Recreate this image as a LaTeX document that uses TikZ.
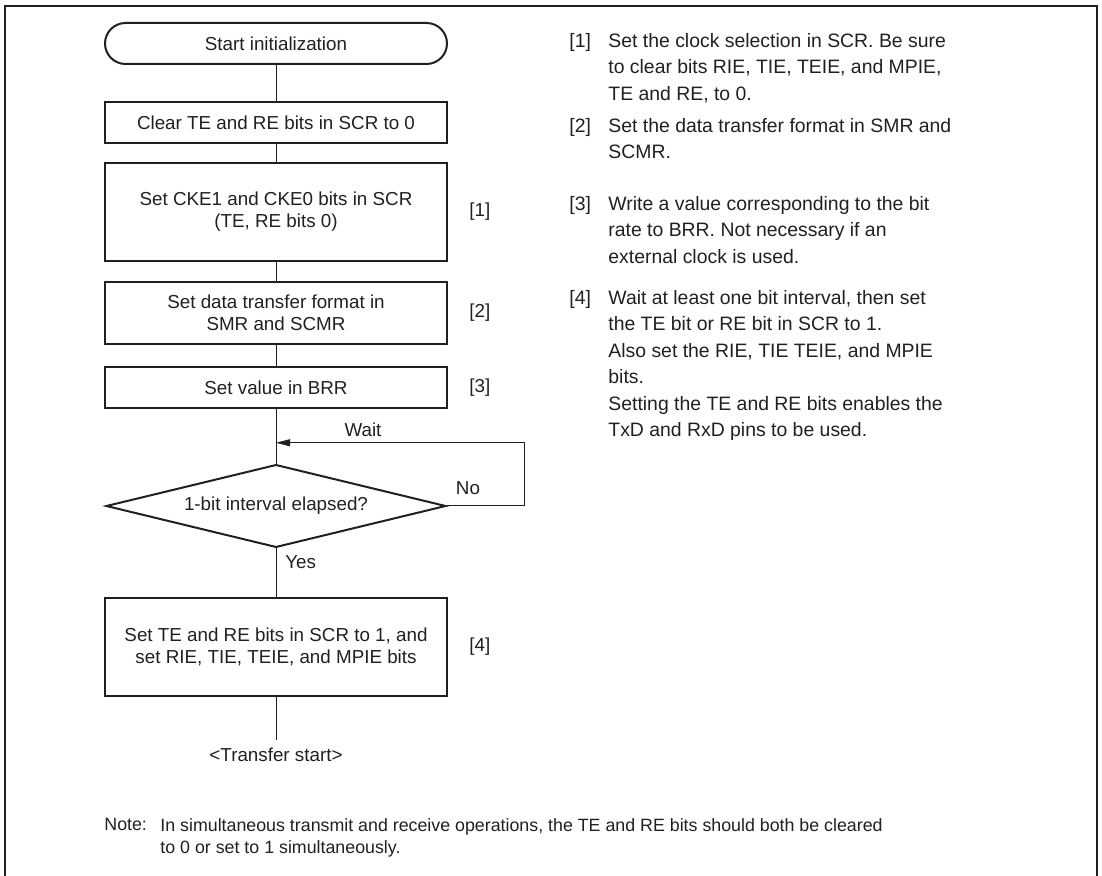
\documentclass[tikz,border=0pt]{standalone}
\usepackage{fontspec}
\setmainfont{Liberation Sans}
\usetikzlibrary{arrows.meta,shapes.geometric,positioning,calc}
\definecolor{ink}{RGB}{35,31,32}
\tikzset{
  stepbox/.style={rectangle,draw=ink,text=ink,line width=1pt,
                  minimum width=171pt,minimum height=#1,inner sep=0pt,
                  outer sep=0pt,align=center,font=\fontsize{9.4}{11}\selectfont},
  stepbox/.default=20.5pt,
  term/.style={stepbox,rounded corners=10.25pt},
  decide/.style={diamond,aspect=4.13,draw=ink,text=ink,line width=1pt,
                 minimum width=169.5pt,minimum height=41pt,inner sep=0pt,
                 outer sep=0pt,font=\fontsize{9.4}{11}\selectfont},
  flow/.style={draw=ink,line width=0.5pt},
  back/.style={flow,-{Triangle[length=7pt,width=3.5pt]}},
  tag/.style={text=ink,inner sep=0pt,font=\fontsize{9.4}{11}\selectfont},
  remark/.style={text=ink,inner sep=0pt,align=left,anchor=north west,
                 font=\fontsize{9.7}{13.25}\selectfont},
  footnote/.style={text=ink,inner sep=0pt,align=left,anchor=north west,
                   font=\fontsize{8.9}{11}\selectfont},
}

\begin{document}
\begin{tikzpicture}[x=0.5pt,y=-0.5pt]
  \useasboundingbox (0,0) rectangle (1102,876);
  \draw[ink,line width=0.9pt] (5,876) -- (5,6) -- (1097,6) -- (1097,876);

  % flow chart
  \node[term] (start) at (276,43.5) {Start initialization};
  \node[stepbox,below=19pt of start] (clear) {Clear TE and RE bits in SCR to 0};
  \node[stepbox=49pt,below=10pt of clear] (cke)
      {Set CKE1 and CKE0 bits in SCR\\(TE, RE bits 0)};
  \node[stepbox=31pt,below=10.5pt of cke] (fmt)
      {Set data transfer format in\\SMR and SCMR};
  \node[stepbox,below=11.5pt of fmt] (brr) {Set value in BRR};
  \node[decide,below=28.5pt of brr] (elapsed) {1-bit interval elapsed?};
  \node[stepbox=49pt,below=25.5pt of elapsed] (setbits)
      {Set TE and RE bits in SCR to 1, and\\set RIE, TIE, TEIE, and MPIE bits};
  \coordinate[below=22pt of setbits] (fin);
  \node[tag,below=3.5pt of fin] (xfer) {<Transfer start>};

  \foreach \a/\b in {start/clear,clear/cke,cke/fmt,fmt/brr,brr/elapsed,
                     elapsed/setbits,setbits/fin}
    \draw[flow] (\a) -- (\b);

  % wait loop
  \coordinate (waitpt) at ($(brr.south)!0.61!(elapsed.north)$);
  \draw[back] (elapsed.east) -- ++(79,0) |- (waitpt);
  \node[tag] (waitlbl) at (363,430) {Wait};
  \node[tag] (nolbl) at (468,488) {No};
  \node[tag,anchor=west] (yeslbl) at (285,562) {Yes};

  % step numbers
  \node[tag,right=11pt of cke] (n1) {[1]};
  \node[tag,right=11pt of fmt] (n2) {[2]};
  \node[tag,right=11pt of brr] (n3) {[3]};
  \node[tag,right=11pt of setbits] (n4) {[4]};

  % explanations
  \node[remark] (k1) at (569,33) {[1]};
  \node[remark] (t1) at (608,33)
      {Set the clock selection in SCR. Be sure\\to clear bits RIE, TIE, TEIE, and MPIE,\\TE and RE, to 0.};
  \node[remark] (k2) at (569,118) {[2]};
  \node[remark] (t2) at (608,118) {Set the data transfer format in SMR and\\SCMR.};
  \node[remark] (k3) at (569,196) {[3]};
  \node[remark] (t3) at (608,196)
      {Write a value corresponding to the bit\\rate to BRR. Not necessary if an\\external clock is used.};
  \node[remark] (k4) at (569,290) {[4]};
  \node[remark] (t4) at (608,290)
      {Wait at least one bit interval, then set\\the TE bit or RE bit in SCR to 1.\\Also set the RIE, TIE TEIE, and MPIE\\bits.\\Setting the TE and RE bits enables the\\TxD and RxD pins to be used.};

  % note
  \node[footnote] (notekey) at (104,818) {Note:};
  \node[footnote] (notetxt) at (160,818)
      {In simultaneous transmit and receive operations, the TE and RE bits should both be cleared\\to 0 or set to 1 simultaneously.};
\end{tikzpicture}
\end{document}
